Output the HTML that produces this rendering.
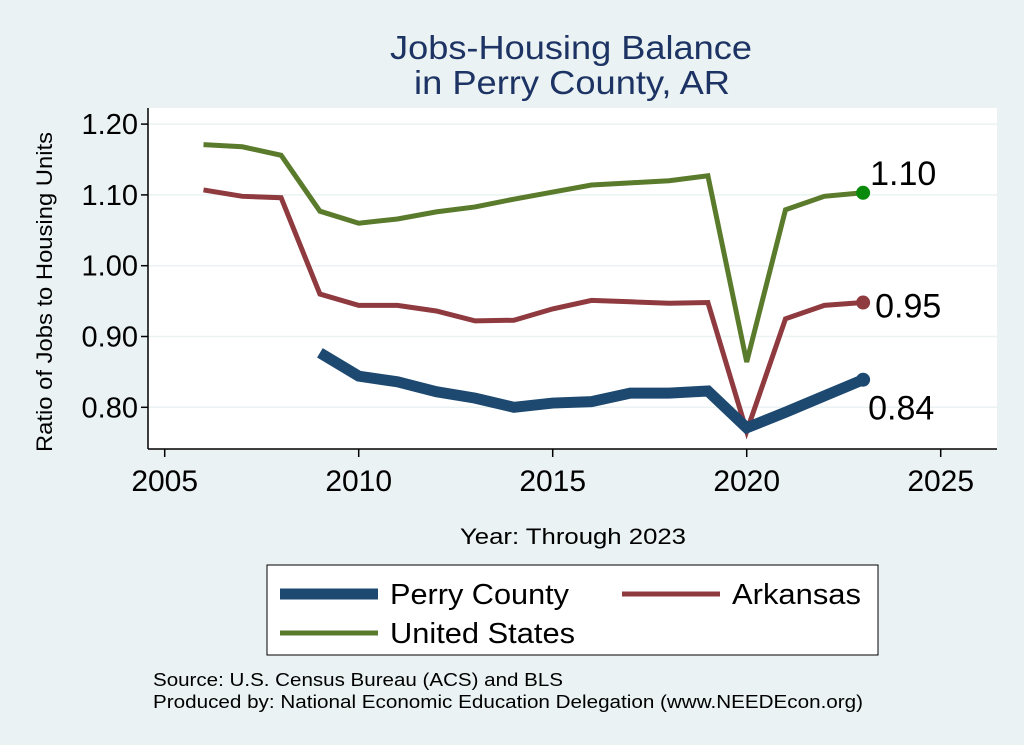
<!DOCTYPE html>
<html><head><meta charset="utf-8"><style>
body{margin:0;background:#eaf2f3;}
svg{display:block;font-family:"Liberation Sans",Arial,sans-serif;}
</style></head><body>
<svg width="1024" height="745">
<rect x="0" y="0" width="1024" height="745" fill="#eaf2f3"/>
<text x="390" y="59" textLength="362" lengthAdjust="spacingAndGlyphs" font-size="33" fill="#1c3363">Jobs-Housing Balance</text>
<text x="414" y="94" textLength="316" lengthAdjust="spacingAndGlyphs" font-size="33" fill="#1c3363">in Perry County, AR</text>
<rect x="148" y="108" width="849" height="341" fill="#fff"/>
<g id="grid"></g>
<g id="series"></g>
<line x1="148" y1="108" x2="148" y2="449" stroke="#000" stroke-width="1.5"/>
<line x1="148" y1="449" x2="997" y2="449" stroke="#000" stroke-width="1.5"/>
<g id="ticks"></g>
<text transform="translate(52,292) rotate(-90)" text-anchor="middle" font-size="22" textLength="320" lengthAdjust="spacingAndGlyphs" fill="#000">Ratio of Jobs to Housing Units</text>
<text x="460" y="544" font-size="22" textLength="226" lengthAdjust="spacingAndGlyphs" fill="#000">Year: Through 2023</text>
<g>
<rect x="267" y="565" width="611" height="90" fill="#fff" stroke="#000" stroke-width="1"/>
<line x1="280" y1="594" x2="378" y2="594" stroke="#1d4970" stroke-width="11"/>
<text x="390" y="604" font-size="29" textLength="179" lengthAdjust="spacingAndGlyphs">Perry County</text>
<line x1="622" y1="594" x2="720" y2="594" stroke="#8f3a3f" stroke-width="5"/>
<text x="732" y="604" font-size="29" textLength="129" lengthAdjust="spacingAndGlyphs">Arkansas</text>
<line x1="280" y1="633" x2="378" y2="633" stroke="#5a7a2c" stroke-width="5"/>
<text x="390" y="643" font-size="29" textLength="185" lengthAdjust="spacingAndGlyphs">United States</text>
</g>
<text x="153" y="686" font-size="18" textLength="410" lengthAdjust="spacingAndGlyphs">Source: U.S. Census Bureau (ACS) and BLS</text>
<text x="153" y="708" font-size="18" textLength="710" lengthAdjust="spacingAndGlyphs">Produced by: National Economic Education Delegation (www.NEEDEcon.org)</text>
</svg>
<script>
const years=[2006,2007,2008,2009,2010,2011,2012,2013,2014,2015,2016,2017,2018,2019,2020,2021,2022,2023];
const usValues=[1.171,1.168,1.156,1.077,1.060,1.066,1.076,1.083,1.094,1.104,1.114,1.117,1.120,1.127,0.864,1.079,1.098,1.103];
const arValues=[1.107,1.098,1.096,0.960,0.944,0.944,0.936,0.922,0.923,0.939,0.951,0.949,0.947,0.948,0.766,0.925,0.944,0.948];
const perryValues=[null,null,null,0.877,0.844,0.836,0.822,0.813,0.800,0.806,0.808,0.820,0.820,0.823,0.771,0.793,0.816,0.839];
const yTicks=[0.8,0.9,1.0,1.1,1.2];
const yTickLabels=["0.80","0.90","1.00","1.10","1.20"];
const xTicks=[2005,2010,2015,2020,2025];
const endLabels=["1.10","0.95","0.84"];
const NS="http://www.w3.org/2000/svg";
const xs=y=>164.7+(y-2005)*38.8;
const ys=v=>407.3-(v-0.8)*708;
function mk(tag,attrs,parent){const e=document.createElementNS(NS,tag);for(const k in attrs)e.setAttribute(k,attrs[k]);parent.appendChild(e);return e;}
const grid=document.getElementById('grid'),ticks=document.getElementById('ticks'),series=document.getElementById('series');
yTicks.forEach((t,i)=>{
  const g=mk('line',{x1:148,x2:997,y1:ys(t),y2:ys(t),stroke:'#eaf2f3','stroke-width':1.5},grid);
  
  
  const tk=mk('line',{x1:141,x2:148,y1:ys(t),y2:ys(t),stroke:'#000','stroke-width':1.5},ticks);
  
  
  const l=mk('text',{x:138,y:ys(t)+10,'text-anchor':'end','font-size':29},ticks);
  l.textContent=yTickLabels[i];
  
  
});
xTicks.forEach(t=>{
  const tk=mk('line',{x1:xs(t),x2:xs(t),y1:449,y2:457,stroke:'#000','stroke-width':1.5},ticks);
  
  
  const l=mk('text',{x:xs(t),y:491,'text-anchor':'middle','font-size':30},ticks);
  l.textContent=t;
  
  
});
function drawLine(vals,color,w,name,dotColor,lbl,dx,dy){
  const pts=[];vals.forEach((v,i)=>{if(v!==null)pts.push(xs(years[i])+','+ys(v));});
  const p=mk('polyline',{points:pts.join(' '),fill:'none',stroke:color,'stroke-width':w,'stroke-linejoin':'miter'},series);
  
  
  const lv=vals[vals.length-1],lx=xs(years[years.length-1]),ly=ys(lv);
  const c=mk('circle',{cx:lx,cy:ly,r:7,fill:dotColor},series);
  
  
  const t=mk('text',{x:lx+dx,y:ly+dy,'font-size':34},series);
  t.textContent=lbl;
  
  
}
drawLine(usValues,'#5a7a2c',5,'us','#0a8a0a',endLabels[0],7,-8);
drawLine(arValues,'#8f3a3f',5,'arkansas','#8f3a3f',endLabels[1],12,15);
drawLine(perryValues,'#1d4970',11,'perry','#1d4970',endLabels[2],5,40);
</script>
</body></html>
